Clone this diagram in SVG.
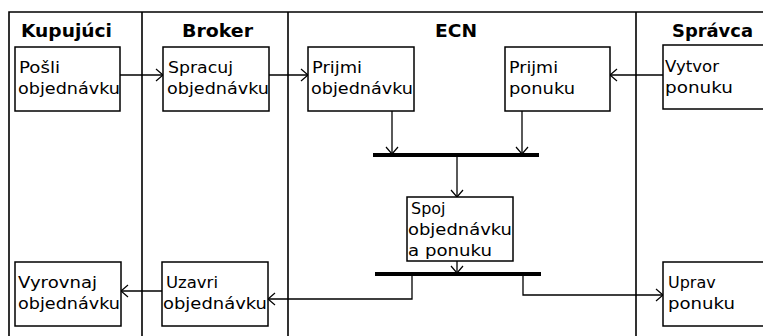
<svg xmlns="http://www.w3.org/2000/svg" width="763" height="336" viewBox="0 0 763 336">
  <defs>
    <marker id="open" markerWidth="12" markerHeight="14" refX="8" refY="7" orient="auto" markerUnits="userSpaceOnUse">
      <path d="M1,1 L8,7 L1,13" fill="none" stroke="#000" stroke-width="1.2"/>
    </marker>
    <style>
      .lane { stroke: #000; stroke-width: 1.6; fill: none; }
      .box { fill: #fff; stroke: #000; stroke-width: 1.5; }
      .hdr { font-family: "DejaVu Sans", sans-serif; font-weight: bold; font-size: 17px; fill: #000; }
      .lbl { font-family: "DejaVu Sans", sans-serif; font-size: 15px; fill: #000; }
      .big { font-size: 16px; }
      .edge { fill: none; stroke: #000; stroke-width: 1.3; }
      .bar { fill: #000; }
    </style>
  </defs>
  <rect width="763" height="336" fill="#fff"/>

  <!-- swimlanes -->
  <g id="lanes">
    <path class="lane" d="M9,336 V12 H763"/>
    <path class="lane" d="M142,12 V336 M288,12 V336 M636,12 V336"/>
    <text class="hdr" x="21" y="37" textLength="91" lengthAdjust="spacingAndGlyphs">Kupujúci</text>
    <text class="hdr" x="182" y="37" textLength="71" lengthAdjust="spacingAndGlyphs">Broker</text>
    <text class="hdr" x="435" y="37" textLength="42" lengthAdjust="spacingAndGlyphs">ECN</text>
    <text class="hdr" x="672" y="37" textLength="81" lengthAdjust="spacingAndGlyphs">Správca</text>
  </g>

  <!-- connectors -->
  <g id="connectors">
    <path class="edge" d="M120,75 H163" marker-end="url(#open)"/>
    <path class="edge" d="M269,75 H308" marker-end="url(#open)"/>
    <path class="edge" d="M663,75 H610" marker-end="url(#open)"/>
    <path class="edge" d="M392,111 V154" marker-end="url(#open)"/>
    <path class="edge" d="M522,111 V154" marker-end="url(#open)"/>
    <path class="edge" d="M457,157 V197" marker-end="url(#open)"/>
    <path class="edge" d="M457,261 V273" marker-end="url(#open)"/>
    <path class="edge" d="M412,275 V299 H268" marker-end="url(#open)"/>
    <path class="edge" d="M523,275 V295 H663" marker-end="url(#open)"/>
    <path class="edge" d="M162,291 H121" marker-end="url(#open)"/>
    <rect id="fork" class="bar" x="373" y="153" width="166" height="4"/>
    <rect id="join" class="bar" x="375" y="272" width="166" height="4"/>
  </g>

  <g id="posli">
    <rect class="box" x="15" y="47" width="105" height="64"/>
    <text class="lbl" x="19" y="73" textLength="41" lengthAdjust="spacingAndGlyphs">Pošli</text>
    <text class="lbl" x="18" y="94" textLength="102" lengthAdjust="spacingAndGlyphs">objednávku</text>
  </g>
  <g id="spracuj">
    <rect class="box" x="163" y="47" width="106" height="64"/>
    <text class="lbl" x="168" y="73" textLength="65" lengthAdjust="spacingAndGlyphs">Spracuj</text>
    <text class="lbl" x="167" y="94" textLength="102" lengthAdjust="spacingAndGlyphs">objednávku</text>
  </g>
  <g id="prijmi-objednavku">
    <rect class="box" x="308" y="47" width="106" height="64"/>
    <text class="lbl" x="312" y="73" textLength="50" lengthAdjust="spacingAndGlyphs">Prijmi</text>
    <text class="lbl" x="311" y="94" textLength="102" lengthAdjust="spacingAndGlyphs">objednávku</text>
  </g>
  <g id="prijmi-ponuku">
    <rect class="box" x="505" y="47" width="105" height="64"/>
    <text class="lbl" x="509" y="73" textLength="49" lengthAdjust="spacingAndGlyphs">Prijmi</text>
    <text class="lbl" x="509" y="94" textLength="66" lengthAdjust="spacingAndGlyphs">ponuku</text>
  </g>
  <g id="vytvor">
    <rect class="box" x="663" y="45" width="110" height="64"/>
    <text class="lbl" x="665" y="72" textLength="54" lengthAdjust="spacingAndGlyphs">Vytvor</text>
    <text class="lbl" x="665" y="93" textLength="68" lengthAdjust="spacingAndGlyphs">ponuku</text>
  </g>
  <g id="spoj">
    <rect class="box" x="407" y="197" width="106" height="64"/>
    <text class="lbl big" x="411" y="214">Spoj</text>
    <text class="lbl" x="408" y="235" textLength="104" lengthAdjust="spacingAndGlyphs">objednávku</text>
    <text class="lbl" x="408" y="256" textLength="84" lengthAdjust="spacingAndGlyphs">a ponuku</text>
  </g>
  <g id="vyrovnaj">
    <rect class="box" x="15" y="262" width="106" height="64"/>
    <text class="lbl" x="18" y="288" textLength="79" lengthAdjust="spacingAndGlyphs">Vyrovnaj</text>
    <text class="lbl" x="18" y="309" textLength="102" lengthAdjust="spacingAndGlyphs">objednávku</text>
  </g>
  <g id="uzavri">
    <rect class="box" x="162" y="262" width="106" height="64"/>
    <text class="lbl" x="166" y="288" textLength="52" lengthAdjust="spacingAndGlyphs">Uzavri</text>
    <text class="lbl" x="163" y="309" textLength="104" lengthAdjust="spacingAndGlyphs">objednávku</text>
  </g>
  <g id="uprav">
    <rect class="box" x="663" y="262" width="110" height="64"/>
    <text class="lbl big" x="668" y="288">Uprav</text>
    <text class="lbl" x="668" y="309" textLength="67" lengthAdjust="spacingAndGlyphs">ponuku</text>
  </g>
</svg>
